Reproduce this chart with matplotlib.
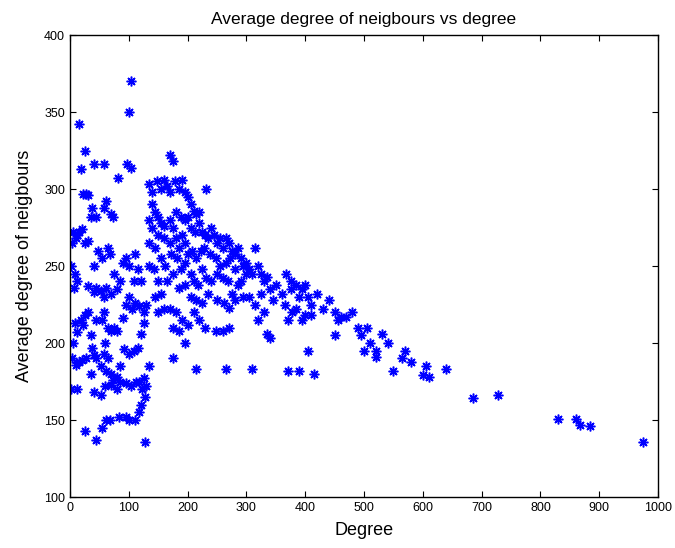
import matplotlib
matplotlib.use("Agg")
import matplotlib.pyplot as plt

degree = [
    103, 100, 15, 97, 103, 57, 40, 25, 18,
    82, 27, 22, 30, 37, 45, 35, 70, 73, 58, 62,
    5, 10, 15, 20, 3, 2, 8, 12, 7, 12, 25, 30, 40, 48, 55, 65, 68, 75, 90, 96, 100, 110, 115, 120, 108, 85, 80, 70, 62, 58, 52, 45, 40, 30,
    18, 8, 12, 5, 25, 30, 22, 35, 38, 45, 55, 58, 60, 65, 70, 75, 80, 90, 95, 100, 105, 110, 118, 125, 130, 125, 120, 115, 108, 100, 92, 85, 80, 73, 70, 65, 58, 52, 45, 40, 35, 28, 20, 15, 10, 3,
    2, 12, 40, 52, 60, 62, 70, 80, 85, 95, 103, 112, 118, 122, 125, 130, 128, 120, 117, 110, 100, 95, 83, 68, 62, 55, 45, 25, 128, 135,
    170, 175, 135, 140, 148, 155, 160, 165, 170, 178, 185, 190, 195, 200, 205, 210, 215, 220, 232, 140, 145, 150, 155, 160, 170, 175, 180, 188, 195, 200, 205, 212, 220, 225, 230, 235, 240, 245, 250, 255, 260, 265, 270, 275, 280, 285, 290, 295, 300, 305, 310, 315, 320, 325, 330,
    135, 140, 150, 160, 170, 180, 185, 190, 195, 200, 208, 215, 222, 228, 238, 248, 255, 265, 272, 280, 290, 300,
    135, 145, 155, 162, 172, 182, 188, 195, 205, 210, 218, 225, 232, 240, 250, 260, 268, 275, 285, 295,
    135, 142, 150, 165, 175, 185, 195, 205, 215, 225, 235, 250, 262, 270, 280,
    145, 155, 170, 180, 190, 200, 210, 220, 230, 248, 260, 270, 150, 160, 175, 195, 185, 175, 215, 265, 310,
    335, 340, 330, 320, 315, 305, 325, 340, 345, 335, 350,
    368, 375, 385, 395, 400, 405, 410, 420, 430, 440, 450, 455, 470, 490, 495, 505, 510, 520, 530, 540, 550, 565, 570, 580, 605, 610, 640, 600,
    365, 370, 378, 385, 390, 395, 400, 410, 375, 360, 370, 390, 405, 415, 450, 460, 480, 500, 520,
    685, 728, 830, 860, 868, 885, 975,
]
avg_neighbour_degree = [
    370, 350, 342, 316, 314, 316, 316, 325, 313,
    307, 297, 297, 296, 288, 282, 282, 284, 282, 288, 292,
    272, 268, 272, 274, 265, 250, 245, 240, 236, 270, 265, 266, 250, 260, 255, 262, 258, 245, 252, 255, 250, 258, 248, 240, 240, 240, 235, 232, 236, 230, 234, 236, 233, 237,
    215, 213, 207, 200, 218, 220, 212, 205, 197, 215, 215, 220, 200, 210, 208, 210, 208, 216, 225, 230, 222, 226, 224, 220, 225, 213, 206, 197, 195, 193, 196, 185, 178, 176, 180, 190, 193, 185, 190, 192, 180, 190, 189, 188, 186, 190,
    170, 170, 168, 166, 172, 182, 173, 170, 175, 174, 172, 175, 175, 170, 177, 172, 165, 160, 155, 150, 150, 152, 152, 150, 150, 145, 137, 143, 136, 185,
    322, 318, 303, 298, 305, 300, 306, 302, 298, 305, 300, 306, 298, 295, 290, 286, 284, 285, 300, 290, 285, 282, 278, 276, 280, 275, 285, 282, 280, 282, 275, 272, 278, 272, 270, 268, 275, 270, 265, 268, 262, 268, 265, 260, 258, 262, 255, 250, 252, 248, 245, 262, 250, 245, 240,
    280, 275, 270, 268, 265, 268, 262, 270, 265, 258, 260, 255, 260, 262, 258, 255, 250, 252, 255, 248, 240, 245,
    265, 262, 255, 250, 258, 255, 248, 252, 245, 240, 238, 248, 242, 240, 245, 242, 240, 232, 238, 230,
    250, 248, 240, 240, 245, 236, 238, 230, 228, 226, 232, 228, 226, 223, 228,
    230, 232, 222, 220, 215, 212, 220, 215, 210, 208, 208, 210, 220, 222, 210, 200, 208, 190, 183, 183, 183,
    206, 203, 220, 215, 225, 230, 232, 235, 228, 243, 238,
    245, 240, 238, 235, 238, 230, 225, 232, 222, 228, 220, 215, 217, 210, 205, 210, 200, 195, 206, 200, 182, 190, 195, 188, 185, 178, 183, 179,
    225, 215, 220, 222, 230, 215, 218, 218, 235, 232, 182, 182, 195, 180, 205, 217, 220, 195, 191,
    164, 166, 151, 151, 147, 146, 136,
]

x_ticks = [0, 100, 200, 300, 400, 500, 600, 700, 800, 900, 1000]
y_ticks = [100, 150, 200, 250, 300, 350, 400]

plt.rcParams['font.family'] = ['Liberation Sans', 'DejaVu Sans']

fig = plt.figure(figsize=(6.75, 5.48), dpi=100)
ax = fig.add_axes([0.1037, 0.093, 0.8713, 0.843])
ax.plot(degree, avg_neighbour_degree, linestyle='none', marker=(8, 2, 0),
        markersize=7, markeredgewidth=1.1, color=(0, 0, 1))
ax.set_xlim(0, 1000)
ax.set_ylim(100, 400)
ax.set_xticks(x_ticks)
ax.set_yticks(y_ticks)
ax.tick_params(direction='in', top=True, right=True, labelsize=9, length=4)
for s in ax.spines.values():
    s.set_linewidth(1.0)
ax.set_title('Average degree of neigbours vs degree', fontsize=12.5, pad=8)
ax.set_xlabel('Degree', fontsize=13, labelpad=6)
ax.set_ylabel('Average degree of neigbours', fontsize=13, labelpad=8)
fig.savefig('out.png', dpi=100)
